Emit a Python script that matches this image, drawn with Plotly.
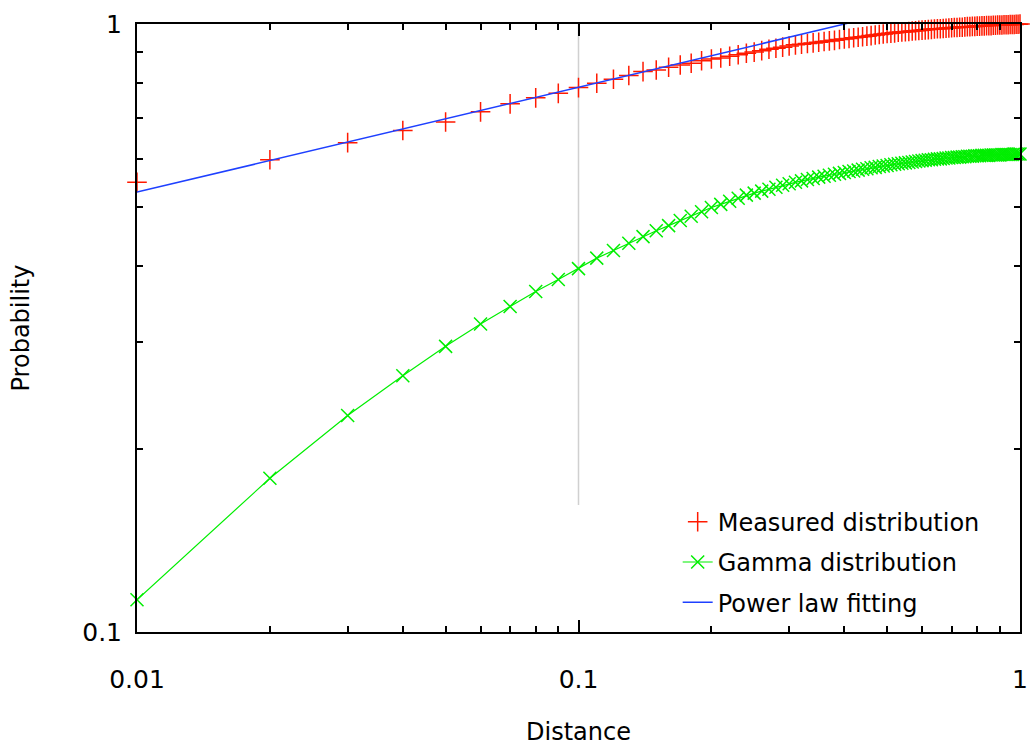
import plotly.graph_objects as go

# ---- data ----
distance = [round(0.01 * i, 2) for i in range(1, 101)]

measured = [
    0.549, 0.598, 0.638, 0.668, 0.690, 0.717, 0.739, 0.756, 0.769, 0.786,
    0.799, 0.811, 0.823, 0.835, 0.840, 0.849, 0.856, 0.862, 0.870, 0.876,
    0.879, 0.885, 0.890, 0.895, 0.899, 0.904, 0.909, 0.912, 0.916, 0.920,
    0.924, 0.926, 0.929, 0.931, 0.933, 0.936, 0.938, 0.940, 0.943, 0.945,
    0.947, 0.949, 0.951, 0.953, 0.955, 0.957, 0.959, 0.961, 0.963, 0.965,
    0.966, 0.967, 0.969, 0.970, 0.971, 0.972, 0.974, 0.975, 0.976, 0.977,
    0.978, 0.979, 0.980, 0.981, 0.982, 0.982, 0.983, 0.984, 0.985, 0.986,
    0.987, 0.987, 0.988, 0.988, 0.989, 0.990, 0.990, 0.991, 0.991, 0.992,
    0.992, 0.993, 0.993, 0.994, 0.994, 0.994, 0.995, 0.995, 0.996, 0.996,
    0.996, 0.997, 0.997, 0.997, 0.998, 0.998, 0.998, 0.999, 0.999, 1.000,
]

gamma = [
    0.113, 0.179, 0.227, 0.264, 0.295, 0.321, 0.343, 0.363, 0.380, 0.396,
    0.412, 0.424, 0.436, 0.447, 0.457, 0.466, 0.475, 0.483, 0.491, 0.499,
    0.505, 0.511, 0.517, 0.523, 0.527, 0.531, 0.535, 0.539, 0.543, 0.546,
    0.549, 0.552, 0.555, 0.557, 0.560, 0.562, 0.564, 0.566, 0.568, 0.570,
    0.572, 0.573, 0.575, 0.577, 0.578, 0.580, 0.581, 0.583, 0.584, 0.585,
    0.587, 0.588, 0.589, 0.590, 0.591, 0.592, 0.593, 0.594, 0.595, 0.596,
    0.597, 0.598, 0.598, 0.599, 0.600, 0.600, 0.601, 0.602, 0.602, 0.603,
    0.603, 0.604, 0.604, 0.605, 0.605, 0.606, 0.606, 0.606, 0.607, 0.607,
    0.607, 0.608, 0.608, 0.608, 0.608, 0.609, 0.609, 0.609, 0.609, 0.609,
    0.610, 0.610, 0.610, 0.610, 0.610, 0.610, 0.611, 0.611, 0.611, 0.611,
]

# power-law fit: straight line on log-log axes, endpoints
fit_x = [0.01, 1.0]
fit_y = [0.529, 1.171]

x_major = [0.01, 0.1, 1]
x_major_text = ["0.01", "0.1", "1"]
y_major = [0.1, 1]
y_major_text = ["0.1", "1"]
x_minor = [k * 0.01 for k in range(2, 10)] + [k * 0.1 for k in range(2, 10)]
y_minor = [k * 0.1 for k in range(2, 10)]

FONT = "DejaVu Sans"

fig = go.Figure()
fig.add_trace(go.Scatter(
    x=distance, y=measured, mode="markers", name="Measured distribution",
    marker=dict(symbol="cross-thin-open", size=14, color="#ff1a00",
                line=dict(color="#ff1a00", width=1.5)),
    cliponaxis=False, legendgroup="a",
))
fig.add_trace(go.Scatter(
    x=distance, y=gamma, mode="lines+markers", name="Gamma distribution",
    line=dict(color="#00ee00", width=1.2),
    marker=dict(symbol="x-thin-open", size=13, color="#00ee00",
                line=dict(color="#00ee00", width=1.5)),
    cliponaxis=False, legendgroup="b",
))
fig.add_trace(go.Scatter(
    x=fit_x, y=fit_y, mode="lines", name="Power law fitting",
    line=dict(color="#1e40ff", width=1.5), legendgroup="c",
))

# light grey grid line at x = 0.1 (hidden behind the key lower down)
fig.add_shape(type="line", xref="x", yref="paper", x0=0.1, x1=0.1,
              y0=0.209, y1=1, line=dict(color="#d0d0d0", width=1.5),
              layer="below")

axis_common = dict(
    type="log", showline=True, linecolor="black", linewidth=2,
    mirror="allticks", ticks="inside", ticklen=12, tickwidth=1.5,
    tickcolor="black", showgrid=False, zeroline=False, automargin=False,
    tickfont=dict(family=FONT, size=25, color="black"),
    title_font=dict(family=FONT, size=24, color="black"),
)

fig.update_xaxes(
    **axis_common, range=[-2, 0], tickmode="array",
    tickvals=x_major, ticktext=x_major_text,
    minor=dict(tickmode="array", tickvals=x_minor, ticks="inside",
               ticklen=6, tickwidth=1.5, tickcolor="black", showgrid=False),
    title_text="Distance", title_standoff=36, ticklabelstandoff=24,
)
fig.update_yaxes(
    **axis_common, range=[-1, 0], tickmode="array",
    tickvals=y_major, ticktext=y_major_text,
    minor=dict(tickmode="array", tickvals=y_minor, ticks="inside",
               ticklen=6, tickwidth=1.5, tickcolor="black", showgrid=False),
    title_text="Probability", title_standoff=46, ticklabelstandoff=8,
)

fig.update_layout(
    width=1033, height=746,
    margin=dict(l=137, r=13, t=24, b=114),
    paper_bgcolor="white", plot_bgcolor="white",
    font=dict(family=FONT, size=24, color="black"),
    showlegend=True,
    legend=dict(x=0.96, xanchor="right", y=0.012, yanchor="bottom",
                bgcolor="rgba(0,0,0,0)", tracegroupgap=6,
                font=dict(family=FONT, size=24, color="black")),
)

fig.write_html("out.html")
